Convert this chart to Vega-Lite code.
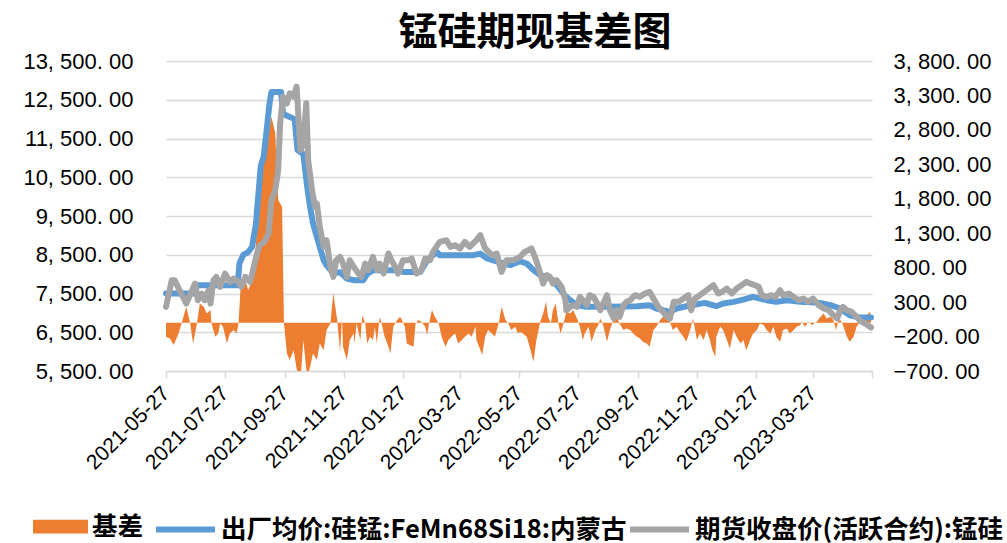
{
  "$schema": "https://vega.github.io/schema/vega-lite/v6.json",
  "width": 706,
  "height": 310,
  "autosize": {"type": "none"},
  "padding": {"left": 166, "top": 61, "right": 135, "bottom": 172},
  "background": "white",
  "title": {"text": "锰硅期现基差图", "fontSize": 39, "font": "Noto Sans CJK SC", "fontWeight": "bold", "color": "#000000", "anchor": "middle", "frame": "group", "dx": 16, "dy": 13, "offset": 10},
  "config": {
    "view": {"stroke": null},
    "axis": {"labelFont": "Liberation Sans", "labelColor": "#000000", "title": null},
    "legend": {"padding": 0, "offset": 0}
  },
  "datasets": {
    "basis": [
      {"d":"2021-05-27","v":-203},{"d":"2021-05-31","v":-227},{"d":"2021-06-04","v":-324},{"d":"2021-06-09","v":-155},{"d":"2021-06-12","v":-9},{"d":"2021-06-17","v":233},{"d":"2021-06-21","v":-9},{"d":"2021-06-24","v":-300},{"d":"2021-06-28","v":-9},{"d":"2021-07-01","v":281},{"d":"2021-07-05","v":233},{"d":"2021-07-08","v":136},{"d":"2021-07-12","v":184},{"d":"2021-07-13","v":-9},{"d":"2021-07-17","v":-203},{"d":"2021-07-20","v":-155},{"d":"2021-07-22","v":-9},{"d":"2021-07-25","v":-58},{"d":"2021-07-29","v":-300},{"d":"2021-08-01","v":-155},{"d":"2021-08-05","v":-106},{"d":"2021-08-08","v":-155},{"d":"2021-08-10","v":-9},{"d":"2021-08-12","v":475},{"d":"2021-08-15","v":717},{"d":"2021-08-20","v":475},{"d":"2021-08-24","v":620},{"d":"2021-08-27","v":959},{"d":"2021-08-31","v":1782},{"d":"2021-09-03","v":2266},{"d":"2021-09-08","v":2604},{"d":"2021-09-13","v":2992},{"d":"2021-09-17","v":2750},{"d":"2021-09-20","v":1782},{"d":"2021-09-24","v":1685},{"d":"2021-09-26","v":-9},{"d":"2021-09-29","v":-445},{"d":"2021-10-02","v":-542},{"d":"2021-10-06","v":-397},{"d":"2021-10-09","v":-663},{"d":"2021-10-13","v":-850},{"d":"2021-10-16","v":-252},{"d":"2021-10-20","v":-800},{"d":"2021-10-23","v":-638},{"d":"2021-10-26","v":-445},{"d":"2021-10-30","v":-542},{"d":"2021-11-02","v":-300},{"d":"2021-11-06","v":-397},{"d":"2021-11-09","v":-106},{"d":"2021-11-13","v":-9},{"d":"2021-11-16","v":427},{"d":"2021-11-20","v":39},{"d":"2021-11-23","v":-420},{"d":"2021-11-25","v":88},{"d":"2021-11-26","v":-348},{"d":"2021-11-30","v":-542},{"d":"2021-12-03","v":-251},{"d":"2021-12-07","v":-154},{"d":"2021-12-08","v":-300},{"d":"2021-12-10","v":-9},{"d":"2021-12-14","v":-251},{"d":"2021-12-16","v":112},{"d":"2021-12-19","v":-9},{"d":"2021-12-21","v":-300},{"d":"2021-12-24","v":-203},{"d":"2021-12-27","v":-251},{"d":"2021-12-29","v":-58},{"d":"2021-12-31","v":-300},{"d":"2022-01-03","v":88},{"d":"2022-01-05","v":-9},{"d":"2022-01-08","v":-203},{"d":"2022-01-12","v":-348},{"d":"2022-01-14","v":-445},{"d":"2022-01-17","v":-58},{"d":"2022-01-21","v":39},{"d":"2022-01-24","v":88},{"d":"2022-01-26","v":39},{"d":"2022-01-29","v":-58},{"d":"2022-01-31","v":-300},{"d":"2022-02-03","v":-324},{"d":"2022-02-07","v":-348},{"d":"2022-02-09","v":-9},{"d":"2022-02-12","v":39},{"d":"2022-02-15","v":15},{"d":"2022-02-19","v":-58},{"d":"2022-02-21","v":-179},{"d":"2022-02-23","v":-9},{"d":"2022-02-26","v":184},{"d":"2022-03-01","v":88},{"d":"2022-03-05","v":-9},{"d":"2022-03-08","v":-203},{"d":"2022-03-12","v":-348},{"d":"2022-03-15","v":-251},{"d":"2022-03-18","v":-203},{"d":"2022-03-22","v":-154},{"d":"2022-03-25","v":-300},{"d":"2022-03-29","v":-251},{"d":"2022-04-01","v":-203},{"d":"2022-04-05","v":-154},{"d":"2022-04-08","v":-203},{"d":"2022-04-12","v":-58},{"d":"2022-04-13","v":-251},{"d":"2022-04-17","v":-396},{"d":"2022-04-19","v":-469},{"d":"2022-04-22","v":-203},{"d":"2022-04-25","v":-106},{"d":"2022-04-29","v":-154},{"d":"2022-05-02","v":-203},{"d":"2022-05-06","v":-9},{"d":"2022-05-09","v":233},{"d":"2022-05-13","v":39},{"d":"2022-05-16","v":-9},{"d":"2022-05-19","v":-106},{"d":"2022-05-23","v":-58},{"d":"2022-05-26","v":-154},{"d":"2022-05-28","v":-130},{"d":"2022-05-31","v":-154},{"d":"2022-06-04","v":-203},{"d":"2022-06-07","v":-348},{"d":"2022-06-11","v":-566},{"d":"2022-06-14","v":-251},{"d":"2022-06-18","v":15},{"d":"2022-06-21","v":136},{"d":"2022-06-24","v":305},{"d":"2022-06-26","v":88},{"d":"2022-06-29","v":-9},{"d":"2022-07-01","v":184},{"d":"2022-07-04","v":281},{"d":"2022-07-07","v":-33},{"d":"2022-07-09","v":-154},{"d":"2022-07-12","v":-9},{"d":"2022-07-15","v":160},{"d":"2022-07-19","v":136},{"d":"2022-07-22","v":184},{"d":"2022-07-26","v":63},{"d":"2022-07-29","v":-58},{"d":"2022-08-01","v":-251},{"d":"2022-08-03","v":-154},{"d":"2022-08-07","v":-58},{"d":"2022-08-10","v":-275},{"d":"2022-08-14","v":-106},{"d":"2022-08-17","v":-33},{"d":"2022-08-19","v":63},{"d":"2022-08-22","v":-33},{"d":"2022-08-26","v":-275},{"d":"2022-08-29","v":-106},{"d":"2022-09-01","v":15},{"d":"2022-09-05","v":88},{"d":"2022-09-08","v":-9},{"d":"2022-09-12","v":-106},{"d":"2022-09-15","v":-82},{"d":"2022-09-19","v":-106},{"d":"2022-09-22","v":-154},{"d":"2022-09-26","v":-203},{"d":"2022-09-29","v":-227},{"d":"2022-10-02","v":-275},{"d":"2022-10-06","v":-300},{"d":"2022-10-09","v":-348},{"d":"2022-10-13","v":-106},{"d":"2022-10-16","v":-58},{"d":"2022-10-20","v":39},{"d":"2022-10-23","v":88},{"d":"2022-10-27","v":39},{"d":"2022-10-30","v":15},{"d":"2022-11-02","v":-106},{"d":"2022-11-06","v":-58},{"d":"2022-11-09","v":-130},{"d":"2022-11-13","v":-203},{"d":"2022-11-16","v":-275},{"d":"2022-11-20","v":-106},{"d":"2022-11-23","v":63},{"d":"2022-11-27","v":-251},{"d":"2022-11-30","v":-154},{"d":"2022-12-04","v":-251},{"d":"2022-12-07","v":-106},{"d":"2022-12-10","v":-227},{"d":"2022-12-13","v":-397},{"d":"2022-12-16","v":-493},{"d":"2022-12-17","v":-203},{"d":"2022-12-21","v":-58},{"d":"2022-12-24","v":-106},{"d":"2022-12-28","v":-251},{"d":"2022-12-31","v":-372},{"d":"2023-01-04","v":-106},{"d":"2023-01-07","v":-203},{"d":"2023-01-11","v":-300},{"d":"2023-01-14","v":-251},{"d":"2023-01-17","v":-397},{"d":"2023-01-21","v":-251},{"d":"2023-01-24","v":-154},{"d":"2023-01-28","v":-106},{"d":"2023-01-31","v":-9},{"d":"2023-02-04","v":-33},{"d":"2023-02-07","v":-106},{"d":"2023-02-11","v":-154},{"d":"2023-02-14","v":-58},{"d":"2023-02-17","v":-203},{"d":"2023-02-21","v":-275},{"d":"2023-02-24","v":-106},{"d":"2023-02-28","v":-82},{"d":"2023-03-03","v":-154},{"d":"2023-03-07","v":-106},{"d":"2023-03-10","v":-58},{"d":"2023-03-14","v":-33},{"d":"2023-03-15","v":15},{"d":"2023-03-19","v":-58},{"d":"2023-03-22","v":15},{"d":"2023-03-26","v":-33},{"d":"2023-03-31","v":15},{"d":"2023-04-03","v":78},{"d":"2023-04-07","v":136},{"d":"2023-04-10","v":63},{"d":"2023-04-14","v":88},{"d":"2023-04-17","v":39},{"d":"2023-04-20","v":-106},{"d":"2023-04-22","v":15},{"d":"2023-04-24","v":49},{"d":"2023-04-27","v":-33},{"d":"2023-05-01","v":-203},{"d":"2023-05-04","v":-276},{"d":"2023-05-08","v":-203},{"d":"2023-05-11","v":-58},{"d":"2023-05-15","v":15},{"d":"2023-05-18","v":63},{"d":"2023-05-21","v":97},{"d":"2023-05-25","v":160},{"d":"2023-05-26","v":39}
    ],
    "spot": [
      {"d":"2021-05-27","v":7500},{"d":"2021-06-10","v":7500},{"d":"2021-06-26","v":7500},{"d":"2021-06-28","v":7714},{"d":"2021-08-09","v":7714},{"d":"2021-08-11","v":8280},{"d":"2021-08-15","v":8500},{"d":"2021-08-20","v":8570},{"d":"2021-08-24","v":8700},{"d":"2021-08-28","v":9300},{"d":"2021-08-31","v":10200},{"d":"2021-09-02","v":10800},{"d":"2021-09-05","v":11030},{"d":"2021-09-08","v":11700},{"d":"2021-09-11","v":12400},{"d":"2021-09-13","v":12700},{"d":"2021-09-23","v":12700},{"d":"2021-09-25","v":12150},{"d":"2021-09-28","v":12100},{"d":"2021-10-07","v":12000},{"d":"2021-10-10","v":11200},{"d":"2021-10-16","v":11100},{"d":"2021-10-20","v":10250},{"d":"2021-10-23","v":9740},{"d":"2021-10-26","v":9310},{"d":"2021-10-31","v":8875},{"d":"2021-11-06","v":8360},{"d":"2021-11-09","v":8230},{"d":"2021-11-16","v":8020},{"d":"2021-11-23","v":8050},{"d":"2021-11-30","v":7887},{"d":"2021-12-07","v":7843},{"d":"2021-12-17","v":7843},{"d":"2021-12-21","v":8000},{"d":"2021-12-27","v":8100},{"d":"2022-01-24","v":8100},{"d":"2022-01-27","v":8058},{"d":"2022-02-14","v":8058},{"d":"2022-02-21","v":8360},{"d":"2022-03-03","v":8574},{"d":"2022-03-06","v":8490},{"d":"2022-04-10","v":8490},{"d":"2022-04-17","v":8530},{"d":"2022-04-24","v":8403},{"d":"2022-05-07","v":8300},{"d":"2022-05-18","v":8230},{"d":"2022-05-28","v":8330},{"d":"2022-06-04","v":8274},{"d":"2022-06-11","v":8102},{"d":"2022-06-18","v":7973},{"d":"2022-06-25","v":7930},{"d":"2022-07-01","v":7843},{"d":"2022-07-08","v":7628},{"d":"2022-07-13","v":7456},{"d":"2022-07-19","v":7327},{"d":"2022-07-26","v":7198},{"d":"2022-08-05","v":7155},{"d":"2022-08-26","v":7155},{"d":"2022-09-26","v":7172},{"d":"2022-10-09","v":7198},{"d":"2022-10-16","v":7112},{"d":"2022-10-23","v":7069},{"d":"2022-10-30","v":7026},{"d":"2022-11-06","v":7112},{"d":"2022-11-16","v":7172},{"d":"2022-11-27","v":7224},{"d":"2022-12-05","v":7258},{"d":"2022-12-17","v":7172},{"d":"2022-12-24","v":7241},{"d":"2023-01-04","v":7284},{"d":"2023-01-14","v":7344},{"d":"2023-01-24","v":7413},{"d":"2023-02-07","v":7327},{"d":"2023-02-17","v":7284},{"d":"2023-02-28","v":7327},{"d":"2023-03-14","v":7284},{"d":"2023-04-03","v":7258},{"d":"2023-04-14","v":7198},{"d":"2023-04-24","v":7112},{"d":"2023-05-04","v":6940},{"d":"2023-05-15","v":6879},{"d":"2023-05-26","v":6879}
    ],
    "fut": [
      {"d":"2021-05-27","v":7155},{"d":"2021-06-02","v":7843},{"d":"2021-06-05","v":7843},{"d":"2021-06-10","v":7585},{"d":"2021-06-17","v":7241},{"d":"2021-06-26","v":7757},{"d":"2021-06-29","v":7327},{"d":"2021-07-03","v":7499},{"d":"2021-07-06","v":7327},{"d":"2021-07-10","v":7585},{"d":"2021-07-12","v":7241},{"d":"2021-07-15","v":7843},{"d":"2021-07-18","v":7929},{"d":"2021-07-22","v":7671},{"d":"2021-07-27","v":8015},{"d":"2021-08-01","v":7800},{"d":"2021-08-05","v":7886},{"d":"2021-08-10","v":7800},{"d":"2021-08-13","v":7671},{"d":"2021-08-17","v":7929},{"d":"2021-08-22","v":7800},{"d":"2021-08-25","v":8101},{"d":"2021-08-29","v":8532},{"d":"2021-09-01","v":8747},{"d":"2021-09-06","v":8833},{"d":"2021-09-10","v":9049},{"d":"2021-09-13","v":9910},{"d":"2021-09-17","v":10168},{"d":"2021-09-20","v":10685},{"d":"2021-09-22","v":11890},{"d":"2021-09-25","v":12579},{"d":"2021-09-29","v":12407},{"d":"2021-10-02","v":12665},{"d":"2021-10-06","v":12579},{"d":"2021-10-09","v":12837},{"d":"2021-10-13","v":11201},{"d":"2021-10-16","v":11373},{"d":"2021-10-19","v":12407},{"d":"2021-10-21","v":10943},{"d":"2021-10-25","v":10168},{"d":"2021-10-28","v":9737},{"d":"2021-10-30","v":9823},{"d":"2021-11-02","v":9221},{"d":"2021-11-06","v":8704},{"d":"2021-11-09","v":8876},{"d":"2021-11-13","v":8187},{"d":"2021-11-16","v":7929},{"d":"2021-11-19","v":8360},{"d":"2021-11-23","v":8446},{"d":"2021-11-26","v":8274},{"d":"2021-11-30","v":7929},{"d":"2021-12-03","v":8360},{"d":"2021-12-07","v":8188},{"d":"2021-12-12","v":8015},{"d":"2021-12-15","v":7929},{"d":"2021-12-19","v":8274},{"d":"2021-12-22","v":8101},{"d":"2021-12-27","v":8446},{"d":"2021-12-31","v":8101},{"d":"2022-01-03","v":8274},{"d":"2022-01-07","v":8015},{"d":"2022-01-12","v":8532},{"d":"2022-01-15","v":8360},{"d":"2022-01-19","v":8188},{"d":"2022-01-22","v":8015},{"d":"2022-01-27","v":8360},{"d":"2022-02-02","v":8360},{"d":"2022-02-05","v":8403},{"d":"2022-02-10","v":8015},{"d":"2022-02-15","v":8101},{"d":"2022-02-19","v":8403},{"d":"2022-02-24","v":8360},{"d":"2022-02-27","v":8575},{"d":"2022-03-06","v":8833},{"d":"2022-03-13","v":8876},{"d":"2022-03-17","v":8704},{"d":"2022-03-22","v":8747},{"d":"2022-03-27","v":8661},{"d":"2022-04-01","v":8833},{"d":"2022-04-06","v":8704},{"d":"2022-04-13","v":8876},{"d":"2022-04-17","v":9005},{"d":"2022-04-22","v":8661},{"d":"2022-04-29","v":8489},{"d":"2022-05-04","v":8532},{"d":"2022-05-09","v":8058},{"d":"2022-05-14","v":8360},{"d":"2022-05-21","v":8360},{"d":"2022-05-28","v":8446},{"d":"2022-06-02","v":8575},{"d":"2022-06-09","v":8662},{"d":"2022-06-13","v":8403},{"d":"2022-06-16","v":8188},{"d":"2022-06-21","v":7757},{"d":"2022-06-25","v":7973},{"d":"2022-06-28","v":7930},{"d":"2022-07-01","v":7757},{"d":"2022-07-05","v":7844},{"d":"2022-07-10","v":7671},{"d":"2022-07-14","v":7327},{"d":"2022-07-15","v":7069},{"d":"2022-07-19","v":7155},{"d":"2022-07-22","v":7198},{"d":"2022-07-26","v":7155},{"d":"2022-07-29","v":7413},{"d":"2022-08-01","v":7327},{"d":"2022-08-05","v":7198},{"d":"2022-08-08","v":7456},{"d":"2022-08-12","v":7413},{"d":"2022-08-15","v":7284},{"d":"2022-08-19","v":7069},{"d":"2022-08-22","v":7241},{"d":"2022-08-26","v":7456},{"d":"2022-08-29","v":7069},{"d":"2022-09-02","v":6853},{"d":"2022-09-05","v":7069},{"d":"2022-09-08","v":6896},{"d":"2022-09-12","v":7198},{"d":"2022-09-15","v":7284},{"d":"2022-09-19","v":7327},{"d":"2022-09-24","v":7456},{"d":"2022-09-29","v":7413},{"d":"2022-10-04","v":7499},{"d":"2022-10-09","v":7542},{"d":"2022-10-13","v":7370},{"d":"2022-10-18","v":7155},{"d":"2022-10-23","v":7026},{"d":"2022-10-27","v":6896},{"d":"2022-10-30","v":6853},{"d":"2022-11-03","v":7284},{"d":"2022-11-08","v":7284},{"d":"2022-11-13","v":7370},{"d":"2022-11-18","v":7456},{"d":"2022-11-21","v":7069},{"d":"2022-11-25","v":7370},{"d":"2022-11-30","v":7456},{"d":"2022-12-07","v":7585},{"d":"2022-12-14","v":7714},{"d":"2022-12-19","v":7499},{"d":"2022-12-23","v":7542},{"d":"2022-12-28","v":7628},{"d":"2023-01-02","v":7499},{"d":"2023-01-07","v":7628},{"d":"2023-01-12","v":7714},{"d":"2023-01-17","v":7800},{"d":"2023-01-21","v":7757},{"d":"2023-01-26","v":7714},{"d":"2023-01-30","v":7671},{"d":"2023-02-02","v":7456},{"d":"2023-02-07","v":7413},{"d":"2023-02-12","v":7456},{"d":"2023-02-16","v":7413},{"d":"2023-02-21","v":7585},{"d":"2023-02-24","v":7456},{"d":"2023-03-02","v":7499},{"d":"2023-03-07","v":7413},{"d":"2023-03-12","v":7327},{"d":"2023-03-17","v":7370},{"d":"2023-03-22","v":7284},{"d":"2023-03-27","v":7370},{"d":"2023-04-02","v":7198},{"d":"2023-04-07","v":7112},{"d":"2023-04-12","v":7069},{"d":"2023-04-17","v":6940},{"d":"2023-04-21","v":6853},{"d":"2023-04-24","v":7069},{"d":"2023-04-27","v":7155},{"d":"2023-05-01","v":7069},{"d":"2023-05-06","v":7026},{"d":"2023-05-11","v":6896},{"d":"2023-05-15","v":6793},{"d":"2023-05-20","v":6724},{"d":"2023-05-26","v":6621}
    ]
  },
  "encoding": {
    "x": {
      "field": "d",
      "type": "temporal",
      "scale": {"type": "utc", "domain": [{"year": 2021, "month": 5, "date": 27, "utc": true}, {"year": 2023, "month": 5, "date": 27, "utc": true}]},
      "axis": {
        "values": [
          {"year": 2021, "month": 5, "date": 27, "utc": true},
          {"year": 2021, "month": 7, "date": 27, "utc": true},
          {"year": 2021, "month": 9, "date": 27, "utc": true},
          {"year": 2021, "month": 11, "date": 27, "utc": true},
          {"year": 2022, "month": 1, "date": 27, "utc": true},
          {"year": 2022, "month": 3, "date": 27, "utc": true},
          {"year": 2022, "month": 5, "date": 27, "utc": true},
          {"year": 2022, "month": 7, "date": 27, "utc": true},
          {"year": 2022, "month": 9, "date": 27, "utc": true},
          {"year": 2022, "month": 11, "date": 27, "utc": true},
          {"year": 2023, "month": 1, "date": 27, "utc": true},
          {"year": 2023, "month": 3, "date": 27, "utc": true},
          {"year": 2023, "month": 5, "date": 27, "utc": true}
        ],
        "labelExpr": "datum.value > 1685000000000 ? '' : utcFormat(datum.value, '%Y-%m-%d')",
        "labelAngle": -45,
        "labelAlign": "right",
        "labelBaseline": "middle",
        "labelFontSize": 21,
        "labelPadding": 12,
        "labelFlush": false,
        "labelOverlap": false,
        "labelBound": false,
        "tickSize": 7,
        "tickColor": "#d9d9d9",
        "tickWidth": 1.5,
        "domainColor": "#d9d9d9",
        "domainWidth": 1.5,
        "grid": false
      }
    }
  },
  "layer": [
    {
      "data": {"name": "basis"},
      "mark": {"type": "area", "clip": true, "interpolate": "linear"},
      "encoding": {
        "y": {
          "field": "v",
          "type": "quantitative",
          "scale": {"domain": [-700, 3800], "nice": false, "zero": false},
          "axis": {
            "orient": "right",
            "values": [-700, -200, 300, 800, 1300, 1800, 2300, 2800, 3300, 3800],
            "grid": false,
            "domain": false,
            "ticks": false,
            "labelOverlap": false,
            "labelPadding": 21,
            "labelFontSize": 22,
            "labelExpr": "replace(replace(format(datum.value, ',.2f'), ',', ', '), '.', '. ')"
          }
        },
        "y2": {"datum": 0},
        "fill": {
          "datum": "基差",
          "type": "nominal",
          "scale": {"domain": ["基差"], "range": ["#ed7d31"]},
          "legend": {
            "orient": "none",
            "legendX": -133,
            "legendY": 438,
            "direction": "horizontal",
            "title": null,
            "symbolType": "M-1,-0.25H1V0.25H-1Z",
            "symbolSize": 3025,
            "symbolStrokeWidth": 0,
            "labelFont": "Noto Sans CJK SC",
            "labelFontSize": 25.5,
            "labelFontWeight": "bold",
            "labelColor": "#000000",
            "labelOffset": 4
          }
        }
      }
    },
    {
      "encoding": {
        "y": {
          "field": "v",
          "type": "quantitative",
          "scale": {"domain": [5500, 13500], "nice": false, "zero": false},
          "axis": {
            "orient": "left",
            "values": [5500, 6500, 7500, 8500, 9500, 10500, 11500, 12500, 13500],
            "grid": true,
            "gridColor": "#d9d9d9",
            "gridWidth": 1.5,
            "domain": false,
            "ticks": false,
            "labelOverlap": false,
            "labelPadding": 33,
            "labelFontSize": 22,
            "labelExpr": "replace(replace(format(datum.value, ',.2f'), ',', ', '), '.', '. ')"
          }
        }
      },
      "layer": [
        {
          "data": {"name": "spot"},
          "mark": {"type": "line", "strokeWidth": 6, "strokeJoin": "round", "strokeCap": "round"},
          "encoding": {
            "stroke": {
              "datum": "出厂均价:硅锰:FeMn68Si18:内蒙古",
              "type": "nominal",
              "scale": {"domain": ["出厂均价:硅锰:FeMn68Si18:内蒙古", "期货收盘价(活跃合约):锰硅"], "range": ["#5b9bd5", "#a5a5a5"]},
              "legend": {
                "orient": "none",
                "legendX": -13,
                "legendY": 436,
                "direction": "horizontal",
                "title": null,
                "symbolType": "M-1,0H1",
                "symbolSize": 3481,
                "symbolStrokeWidth": 6,
                "labelFont": "Noto Sans CJK SC",
                "labelFontSize": 25.5,
                "labelFontWeight": "bold",
                "labelColor": "#000000",
                "labelOffset": 3,
                "labelLimit": 700,
                "columnPadding": -14
              }
            }
          }
        },
        {
          "data": {"name": "fut"},
          "mark": {"type": "line", "strokeWidth": 6, "strokeJoin": "round", "strokeCap": "round"},
          "encoding": {
            "stroke": {"datum": "期货收盘价(活跃合约):锰硅", "type": "nominal"}
          }
        }
      ]
    }
  ],
  "resolve": {"scale": {"y": "independent"}}
}
